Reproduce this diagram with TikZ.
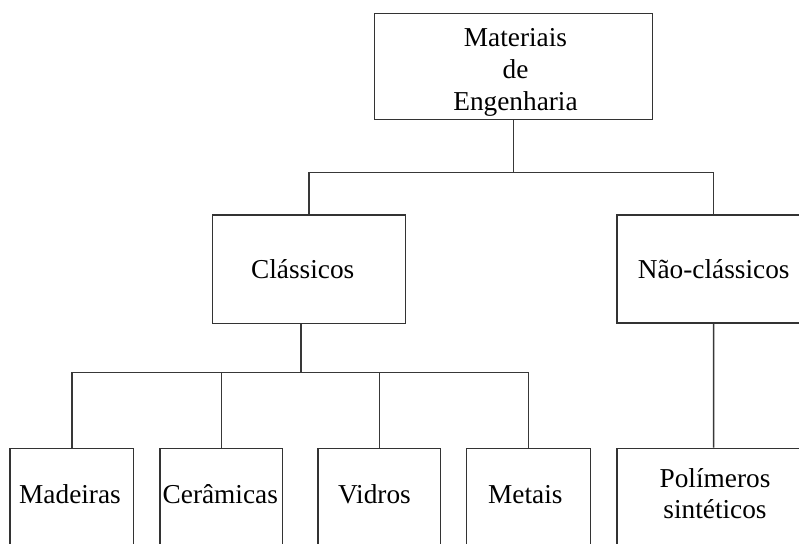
\documentclass[tikz,border=0pt]{standalone}
\usepackage{fontspec}
\setmainfont{Liberation Serif}
\begin{document}
\begin{tikzpicture}[x=1pt,y=-1pt,
  box/.style={draw=black!80, line width=1.5pt, rectangle, inner sep=0pt},
  conn/.style={draw=black!78, line width=1.5pt},
  lbl/.style={font=\fontsize{27.3}{32}\selectfont, inner sep=0pt, text=black}]
\useasboundingbox (0,0) rectangle (799,543);
\fill[white] (0,0) rectangle (799,543);
\clip (0,0) rectangle (799,543);
% boxes
\node[box, minimum width=278pt, minimum height=106pt] (top) at (513.3,66.3) {};
\node[box, minimum width=193pt, minimum height=108.3pt] (cla) at (309.2,269.2) {};
\node[box, minimum width=193pt, minimum height=108pt] (nao) at (713.7,269) {};
\node[box, minimum width=123.7pt, minimum height=110pt] (mad) at (71.85,503.3) {};
\node[box, minimum width=122.7pt, minimum height=110pt] (cer) at (221.35,503.3) {};
\node[box, minimum width=122.7pt, minimum height=110pt] (vid) at (379.35,503.3) {};
\node[box, minimum width=124pt, minimum height=110pt] (met) at (528.7,503.3) {};
\node[box, minimum width=193pt, minimum height=110pt] (pol) at (713.5,503.3) {};
% texts
\node[lbl, align=center] (ttop) at (515.5,72.3) {Materiais\\de\\Engenharia};
\node[lbl, anchor=base] (tcla) at (302.7,278.3) {Clássicos};
\node[lbl, anchor=base] (tnao) at (713.7,278.3) {Não-clássicos};
\node[lbl, anchor=base] (tmad) at (70,503.3) {Madeiras};
\node[lbl, anchor=base] (tcer) at (220.3,503.3) {Cerâmicas};
\node[lbl, anchor=base] (tvid) at (374.5,503.5) {Vidros};
\node[lbl, anchor=base] (tmet) at (525.3,503.5) {Metais};
\node[lbl, align=center, font=\fontsize{27.3}{30.3}\selectfont] (tpol) at (715,493.5) {Polímeros\\sintéticos};
% connectors
\coordinate (upbus) at (0,172.7);
\coordinate (lowbus) at (0,372.5);
\coordinate (cdrop) at (301,0);
\draw[conn] (top.south) -- (top.south |- upbus);
\draw[conn] (cla.north) -- (cla.north |- upbus) -- (nao.north |- upbus) -- (nao.north);
\draw[conn] (cdrop |- cla.south) -- (cdrop |- lowbus);
\draw[conn] (mad.north) -- (mad.north |- lowbus) -- (met.north |- lowbus) -- (met.north);
\draw[conn] (cer.north) -- (cer.north |- lowbus);
\draw[conn] (vid.north) -- (vid.north |- lowbus);
\draw[conn] (nao.south) -- (pol.north);
\end{tikzpicture}
\end{document}
